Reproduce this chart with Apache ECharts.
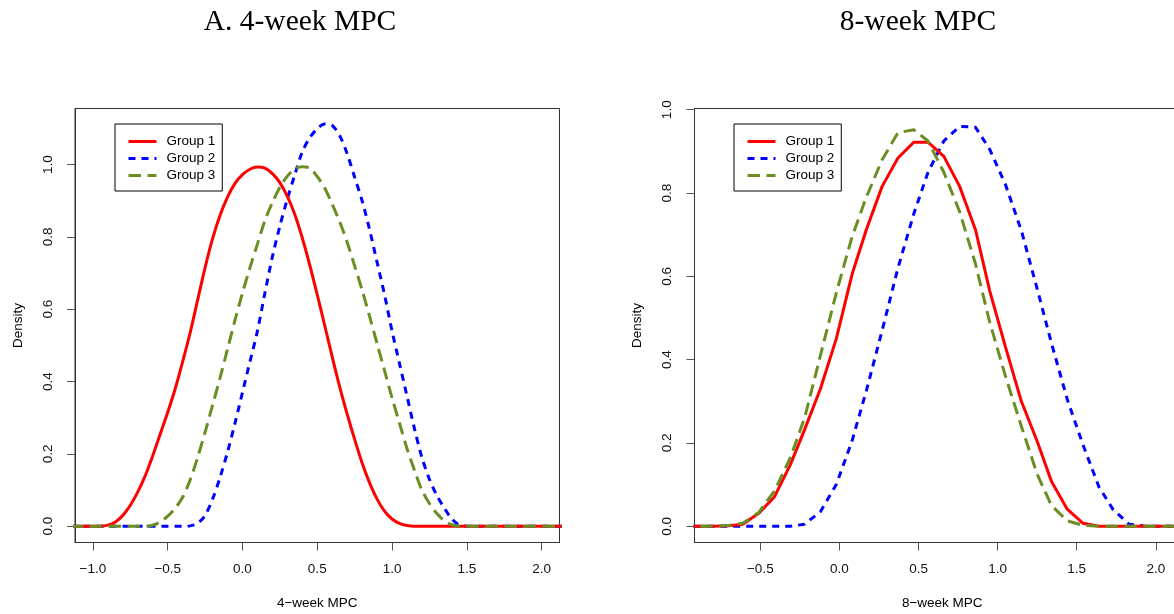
<!DOCTYPE html>
<html>
<head>
<meta charset="utf-8">
<script src="https://cdn.jsdelivr.net/npm/echarts@6/dist/echarts.min.js"></script>
<style>
  html, body { margin: 0; padding: 0; background: #ffffff; }
  #chart { width: 1174px; height: 614px; }
</style>
</head>
<body>
<div id="chart"></div>
<script>
// ---- 4-week MPC densities (evaluation grid and one array per group) ----
const mpc4X = [
  -1.15, -1.1, -1.05, -1.0, -0.95, -0.9, -0.85, -0.8, -0.75, -0.7, -0.65, -0.6, -0.55, -0.5, -0.45, -0.4,
  -0.35, -0.3, -0.25, -0.2, -0.15, -0.1, -0.05, 0.0, 0.05, 0.1, 0.15, 0.2, 0.25, 0.3, 0.35, 0.4,
  0.45, 0.5, 0.55, 0.6, 0.65, 0.7, 0.75, 0.8, 0.85, 0.9, 0.95, 1.0, 1.05, 1.1, 1.15, 1.2,
  1.25, 1.3, 1.35, 1.4, 1.45, 1.5, 1.55, 1.6, 1.65, 1.7, 1.75, 1.8, 1.85, 1.9, 1.95, 2.0,
  2.05, 2.1, 2.15
];
const group1Week4 = [
  0, 0, 0, 0, 0, 0.003, 0.012, 0.03, 0.058, 0.095, 0.14, 0.195, 0.255, 0.315, 0.38, 0.455,
  0.535, 0.625, 0.715, 0.795, 0.86, 0.91, 0.948, 0.972, 0.987, 0.993, 0.99, 0.975, 0.95, 0.912, 0.862, 0.797,
  0.722, 0.64, 0.555, 0.468, 0.385, 0.31, 0.24, 0.175, 0.12, 0.075, 0.042, 0.02, 0.008, 0.002, 0, 0,
  0, 0, 0, 0, 0, 0, 0, 0, 0, 0, 0, 0, 0, 0, 0, 0,
  0, 0, 0
];
const group2Week4 = [
  0, 0, 0, 0, 0, 0, 0, 0, 0, 0, 0, 0, 0, 0, 0, 0,
  0.001, 0.008, 0.03, 0.075, 0.135, 0.205, 0.285, 0.37, 0.455, 0.54, 0.645, 0.745, 0.83, 0.905, 0.972, 1.035,
  1.074, 1.099, 1.112, 1.108, 1.08, 1.03, 0.965, 0.9, 0.82, 0.73, 0.64, 0.54, 0.45, 0.36, 0.27, 0.19,
  0.13, 0.085, 0.05, 0.02, 0.003, 0, 0, 0, 0, 0, 0, 0, 0, 0, 0, 0,
  0, 0, 0
];
const group3Week4 = [
  0, 0, 0, 0, 0, 0, 0, 0, 0, 0, 0, 0.003, 0.012, 0.028, 0.05, 0.08,
  0.128, 0.19, 0.26, 0.335, 0.41, 0.49, 0.57, 0.645, 0.715, 0.78, 0.845, 0.895, 0.937, 0.968, 0.988, 0.994,
  0.99, 0.967, 0.935, 0.89, 0.842, 0.785, 0.72, 0.653, 0.58, 0.505, 0.43, 0.355, 0.285, 0.215, 0.155, 0.1,
  0.063, 0.035, 0.015, 0.004, 0, 0, 0, 0, 0, 0, 0, 0, 0, 0, 0, 0,
  0, 0, 0
];

// ---- 8-week MPC densities ----
const mpc8X = [
  -1.0, -0.9, -0.8, -0.7, -0.61, -0.51, -0.41, -0.31, -0.22, -0.12, -0.02, 0.08, 0.17, 0.27, 0.37, 0.47,
  0.56, 0.66, 0.76, 0.86, 0.95, 1.05, 1.15, 1.25, 1.34, 1.44, 1.54, 1.64, 1.73, 1.83, 1.93, 2.03,
  2.12, 2.22, 2.32
];
const group1Week8 = [
  0, 0, 0, 0.001, 0.005, 0.031, 0.071, 0.148, 0.232, 0.33, 0.45, 0.605, 0.712, 0.816, 0.884, 0.922,
  0.922, 0.888, 0.816, 0.712, 0.565, 0.43, 0.3, 0.204, 0.108, 0.041, 0.007, 0, 0, 0, 0, 0,
  0, 0, 0
];
const group2Week8 = [
  0, 0, 0, 0, 0, 0, 0, 0, 0.005, 0.035, 0.1, 0.205, 0.325, 0.47, 0.62, 0.75,
  0.85, 0.925, 0.96, 0.958, 0.905, 0.82, 0.71, 0.57, 0.44, 0.305, 0.195, 0.095, 0.04, 0.005, 0, 0,
  0, 0, 0
];
const group3Week8 = [
  0, 0, 0, 0.002, 0.007, 0.033, 0.085, 0.165, 0.26, 0.41, 0.56, 0.695, 0.79, 0.88, 0.945, 0.952,
  0.925, 0.85, 0.755, 0.63, 0.49, 0.36, 0.24, 0.125, 0.05, 0.013, 0.002, 0, 0, 0, 0, 0,
  0, 0, 0
];

// ---- labels and ticks ----
const groupNames = ['Group 1', 'Group 2', 'Group 3'];
const panelTitles = ['A. 4-week MPC', '8-week MPC'];
const xAxisNames = ['4\u2212week MPC', '8\u2212week MPC'];
const yAxisName = 'Density';
const xTicks4 = [-1.0, -0.5, 0.0, 0.5, 1.0, 1.5, 2.0];
const xTicks8 = [-0.5, 0.0, 0.5, 1.0, 1.5, 2.0];
const yTicks4 = [0.0, 0.2, 0.4, 0.6, 0.8, 1.0];
const yTicks8 = [0.0, 0.2, 0.4, 0.6, 0.8, 1.0];

// ---- styling ----
const groupColors = ['#ff0000', '#0000ff', '#6b8e23'];
const groupDashes = ['solid', [7, 6], [12.5, 6.5]];
// stacking: blue underneath, then red, then green on top
const groupZ = [3, 2, 4];
const SANS = 'Liberation Sans, Arial, Helvetica, sans-serif';
const SERIF = 'Liberation Serif, Times New Roman, serif';
const FS = 13.5;

const fmtTick = v => v.toFixed(1).replace('-', '\u2212');

function pairs(xs, ys) {
  return xs.map((x, i) => [x, ys[i]]);
}

function makeXAxis(gridIndex, min, max, ticks, name) {
  return {
    type: 'value', gridIndex, min, max, name,
    nameLocation: 'middle', nameGap: 54,
    nameTextStyle: { fontFamily: SANS, fontSize: FS, color: '#000' },
    axisLine: { show: true, onZero: false, lineStyle: { color: '#333', width: 1 } },
    axisTick: { show: true, customValues: ticks, length: 8, lineStyle: { color: '#555', width: 1 } },
    axisLabel: { customValues: ticks, formatter: fmtTick, margin: 20,
      fontFamily: SANS, fontSize: FS, color: '#111' },
    splitLine: { show: false }
  };
}

function makeYAxis(gridIndex, min, max, ticks) {
  return {
    type: 'value', gridIndex, min, max, name: yAxisName,
    nameLocation: 'middle', nameGap: 50,
    nameTextStyle: { fontFamily: SANS, fontSize: FS, color: '#000' },
    axisLine: { show: true, onZero: false, lineStyle: { color: '#333', width: 1 } },
    axisTick: { show: true, customValues: ticks, length: 8, lineStyle: { color: '#555', width: 1 } },
    axisLabel: { customValues: ticks, formatter: fmtTick, rotate: 90, margin: 20,
      fontFamily: SANS, fontSize: FS, color: '#111' },
    splitLine: { show: false }
  };
}

function makeLegend(left) {
  return {
    orient: 'vertical', left, top: 124, data: groupNames,
    itemWidth: 28, itemHeight: 14, itemGap: 3,
    padding: [10.5, 7, 8.5, 12],
    borderColor: '#000', borderWidth: 1, backgroundColor: '#fff',
    selectedMode: false,
    itemStyle: { color: 'transparent', borderColor: 'transparent', borderWidth: 0, opacity: 0 },
    lineStyle: { width: 3 },
    textStyle: { fontFamily: SANS, fontSize: FS, color: '#000', padding: [0, 0, 0, 5] }
  };
}

function makeSeries(idx, xs, ys, axisIndex, smooth) {
  return {
    name: groupNames[idx], type: 'line',
    xAxisIndex: axisIndex, yAxisIndex: axisIndex,
    data: pairs(xs, ys),
    symbol: 'none', showSymbol: false, smooth,
    clip: true, silent: true, z: groupZ[idx],
    lineStyle: { color: groupColors[idx], width: 3, type: groupDashes[idx] },
    itemStyle: { color: groupColors[idx] }
  };
}

const chart = echarts.init(document.getElementById('chart'), null, { renderer: 'canvas' });

chart.setOption({
  backgroundColor: '#ffffff',
  animation: false,
  title: [
    { text: panelTitles[0], left: 295, top: 2, textAlign: 'center',
      textStyle: { fontFamily: SERIF, fontSize: 29.5, fontWeight: 'normal', color: '#000' } },
    { text: panelTitles[1], left: 913, top: 2, textAlign: 'center',
      textStyle: { fontFamily: SERIF, fontSize: 29.5, fontWeight: 'normal', color: '#000' } }
  ],
  grid: [
    { left: 75, top: 108.5, width: 484.5, height: 434, show: true,
      borderColor: '#333', borderWidth: 1, backgroundColor: 'transparent',
      containLabel: false, outerBoundsMode: 'none' },
    { left: 694.5, top: 108.5, width: 495.5, height: 434, show: true,
      borderColor: '#333', borderWidth: 1, backgroundColor: 'transparent',
      containLabel: false, outerBoundsMode: 'none' }
  ],
  xAxis: [
    makeXAxis(0, -1.12, 2.12, xTicks4, xAxisNames[0]),
    makeXAxis(1, -0.916, 2.216, xTicks8, xAxisNames[1])
  ],
  yAxis: [
    makeYAxis(0, -0.045, 1.155, yTicks4),
    makeYAxis(1, -0.039, 1.003, yTicks8)
  ],
  legend: [makeLegend(115), makeLegend(734)],
  series: [
    makeSeries(0, mpc4X, group1Week4, 0, 0.3),
    makeSeries(1, mpc4X, group2Week4, 0, 0.3),
    makeSeries(2, mpc4X, group3Week4, 0, 0.3),
    makeSeries(0, mpc8X, group1Week8, 1, false),
    makeSeries(1, mpc8X, group2Week8, 1, false),
    makeSeries(2, mpc8X, group3Week8, 1, false)
  ]
});
</script>
</body>
</html>
